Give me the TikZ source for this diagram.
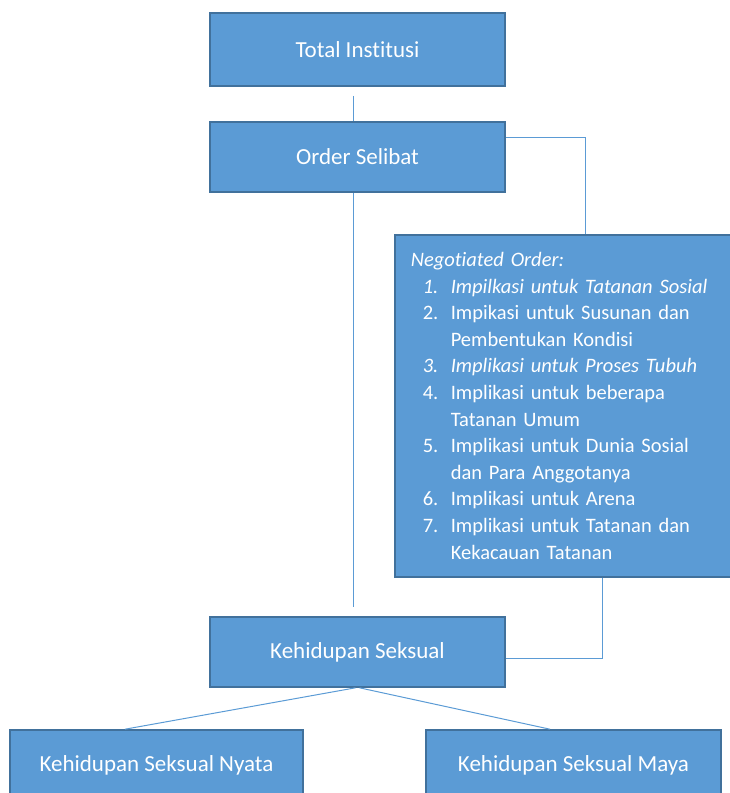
\documentclass[tikz,border=0pt]{standalone}
\usepackage{fontspec}
\setmainfont{Carlito}[Ligatures=NoCommon]
\definecolor{boxblue}{HTML}{5B9BD5}
\definecolor{boxedge}{HTML}{41719C}

\begin{document}
\begin{tikzpicture}[x=1pt,y=-1pt,
  blok/.style={draw=boxedge, line width=1.6pt, fill=boxblue, text=white,
    font=\fontsize{23}{26.6}\selectfont, minimum width=295pt, minimum height=70pt,
    inner sep=0pt},
  garis/.style={draw=boxblue, line width=1pt}]
\useasboundingbox (0,0) rectangle (729,793);

\node[blok, minimum height=73pt] (total) at (357.5,49.5) {Total Institusi};
\node[blok] (order) at (357.5,157) {Order Selibat};
\node[blok, anchor=north west, minimum width=362pt, minimum height=342pt,
  text width=330pt, align=left, inner xsep=16pt,
  font=\fontsize{20.5}{26.6}\selectfont] (nego) at (394,234)
  {\itshape Negotiated Order:\\
   \hspace*{12pt}\makebox[28pt][l]{1.}Impilkasi untuk Tatanan Sosial\\\upshape
   \hspace*{12pt}\makebox[28pt][l]{2.}Impikasi untuk Susunan dan\\
   \hspace*{40pt}Pembentukan Kondisi\\
   \itshape\hspace*{12pt}\makebox[28pt][l]{3.}Implikasi untuk Proses Tubuh\\\upshape
   \hspace*{12pt}\makebox[28pt][l]{4.}Implikasi untuk beberapa\\
   \hspace*{40pt}Tatanan Umum\\
   \hspace*{12pt}\makebox[28pt][l]{5.}Implikasi untuk Dunia Sosial\\
   \hspace*{40pt}dan Para Anggotanya\\
   \hspace*{12pt}\makebox[28pt][l]{6.}Implikasi untuk Arena\\
   \hspace*{12pt}\makebox[28pt][l]{7.}Implikasi untuk Tatanan dan\\
   \hspace*{40pt}Kekacauan Tatanan\\[10pt]};
\node[blok] (seks) at (357.5,652) {Kehidupan Seksual};
\node[blok, minimum width=293pt] (nyata) at (156.5,765) {Kehidupan Seksual Nyata};
\node[blok] (maya) at (573.5,765) {Kehidupan Seksual Maya};

% penghubung
\draw[garis] ([xshift=-4pt,yshift=-9pt]total.south) -- ([xshift=-4pt]order.north);
\draw[garis] ([xshift=-4pt]order.south) -- ([xshift=-4pt,yshift=9pt]seks.north);
\draw[garis] ([yshift=-16pt]order.north east) -| ([xshift=191pt]nego.north west);
\draw[garis] ([xshift=208pt]nego.south west) |- ([yshift=-6pt]seks.east);
\draw[garis] ([xshift=-2pt]seks.south) -- ([xshift=-31.5pt]nyata.north);
\draw[garis] ([xshift=2pt]seks.south) -- ([xshift=-23.5pt]maya.north);
\end{tikzpicture}
\end{document}
